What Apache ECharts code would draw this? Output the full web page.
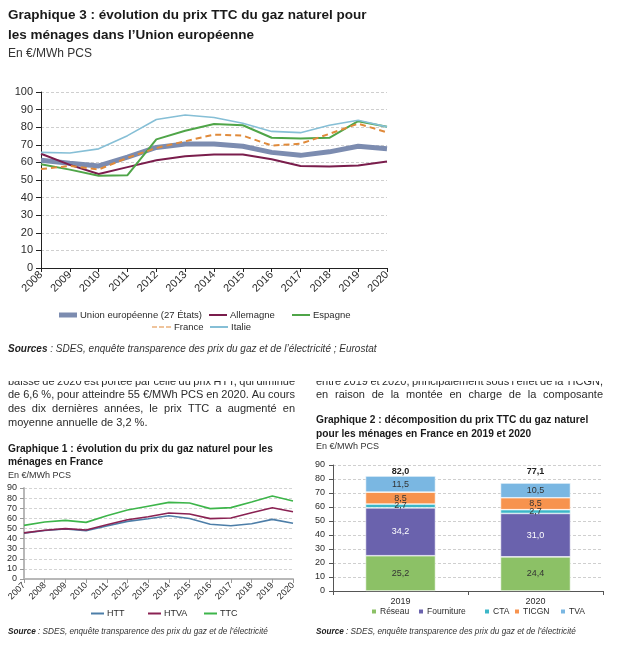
<!DOCTYPE html>
<html><head><meta charset="utf-8">
<script src="https://cdn.jsdelivr.net/npm/echarts@6/dist/echarts.min.js"></script>
<style>html,body{margin:0;padding:0;background:#fff}#c{width:627px;height:656px}</style>
</head><body><div id="c"></div>
<script>
// ---- Graphique 3 data ----
const years3 = ['2008','2009','2010','2011','2012','2013','2014','2015','2016','2017','2018','2019','2020'];
const ueVals = [61.2, 59.5, 58.0, 63.0, 68.5, 70.5, 70.5, 69.2, 65.7, 64.0, 66.0, 69.2, 67.7];
const allemagneVals = [64.9, 58.6, 53.4, 57.3, 61.2, 63.5, 64.5, 64.5, 61.8, 57.9, 57.7, 58.3, 60.5];
const espagneVals = [58.9, 55.9, 52.4, 52.7, 73.1, 78.0, 81.8, 81.1, 74.0, 73.6, 74.0, 83.4, 80.2];
const franceVals = [56.2, 58.0, 56.0, 62.6, 68.2, 72.0, 75.8, 75.2, 69.6, 70.6, 76.2, 82.0, 77.1];
const italieVals = [65.7, 65.3, 67.7, 75.2, 84.4, 86.9, 85.5, 82.2, 77.6, 76.9, 81.1, 83.9, 80.2];
const names3 = ['Union européenne (27 États)', 'Allemagne', 'Espagne', 'France', 'Italie'];
const ticks3 = [0, 100, 10];

// ---- Graphique 1 data ----
const years1 = ['2007','2008','2009','2010','2011','2012','2013','2014','2015','2016','2017','2018','2019','2020'];
const httVals = [45.4, 48.0, 49.5, 47.8, 52.4, 57.0, 59.6, 62.6, 59.9, 54.1, 52.7, 54.7, 59.0, 55.1];
const htvaVals = [45.6, 48.2, 49.8, 48.4, 53.6, 58.6, 61.6, 65.2, 64.3, 59.7, 60.4, 65.6, 70.5, 66.5];
const ttcVals = [53.0, 56.3, 58.0, 56.0, 62.6, 68.2, 72.0, 75.8, 75.2, 69.6, 70.6, 76.2, 82.0, 77.1];
const names1 = ['HTT', 'HTVA', 'TTC'];

// ---- Graphique 2 data ----
const years2 = ['2019', '2020'];
const reseauVals = [25.2, 24.4];
const fournitureVals = [34.2, 31.0];
const ctaVals = [2.7, 2.7];
const ticgnVals = [8.5, 8.5];
const tvaVals = [11.5, 10.5];
const totalVals = [82.0, 77.1];
const names2 = ['Réseau', 'Fourniture', 'CTA', 'TICGN', 'TVA'];

const FF = '"Liberation Sans", Arial, Helvetica, sans-serif';
const TXT = '#2b2b2b';
const fmt = v => Number(v).toFixed(1).replace('.', ',');

const ctx = document.createElement('canvas').getContext('2d');
function justified(text, x, y, width, size, out) {
  ctx.font = size + 'px ' + FF;
  const words = text.split(' ');
  const ws = words.map(w => ctx.measureText(w).width);
  const total = ws.reduce((a, b) => a + b, 0);
  const gap = (width - total) / (words.length - 1);
  let cx = x;
  words.forEach((w, i) => {
    out.push({type: 'text', x: cx, y: y, z: 10, style: {text: w, fontSize: size, fontFamily: FF, fill: TXT, textVerticalAlign: 'middle', verticalAlign: 'middle'}});
    cx += ws[i] + gap;
  });
}
function txt(text, x, y, size, opts) {
  opts = opts || {};
  return {type: 'text', x: x, y: y, z: 10, style: Object.assign({text: text, fontSize: size, fontFamily: FF, fill: TXT, textVerticalAlign: 'middle', verticalAlign: 'middle'}, opts)};
}

const graphics = [];
// Main title
graphics.push(txt('Graphique 3 : évolution du prix TTC du gaz naturel pour', 8, 15, 13.5, {fontWeight: 'bold', fill: '#1a1a1a'}));
graphics.push(txt('les ménages dans l\u2019Union européenne', 8, 35, 13.5, {fontWeight: 'bold', fill: '#1a1a1a'}));
graphics.push(txt('En €/MWh PCS', 8, 54, 12, {fill: '#333'}));
graphics.push(txt('{b|Sources} : SDES, enquête transparence des prix du gaz et de l\u2019électricité ; Eurostat', 8, 349, 10,
  {fontStyle: 'italic', fill: '#333', rich: {b: {fontWeight: 'bold', fontStyle: 'italic', fontSize: 10, fontFamily: FF, fill: '#222'}}}));

// Cut paragraph text, left column
justified('baisse de 2020 est portée par celle du prix HTT, qui diminue', 8, 382, 287, 11, graphics);
justified('de 6,6 %, pour atteindre 55 €/MWh PCS en 2020. Au cours', 8, 395, 287, 11, graphics);
justified('des dix dernières années, le prix TTC a augmenté en', 8, 409, 287, 11, graphics);
graphics.push(txt('moyenne annuelle de 3,2 %.', 8, 423, 11));
// right column
justified('entre 2019 et 2020, principalement sous l\u2019effet de la TICGN,', 316, 382, 287, 11, graphics);
justified('en raison de la montée en charge de la composante', 316, 395, 287, 11, graphics);
// cover the top of the cut line
graphics.push({type: 'rect', z: 20, shape: {x: 0, y: 360, width: 627, height: 21}, style: {fill: '#fff'}});

// Graphique 1 titles
graphics.push(txt('Graphique 1 : évolution du prix du gaz naturel pour les', 8, 449, 10.2, {fontWeight: 'bold', fill: '#1a1a1a'}));
graphics.push(txt('ménages en France', 8, 462, 10.2, {fontWeight: 'bold', fill: '#1a1a1a'}));
graphics.push(txt('En €/MWh PCS', 8, 476, 9, {fill: '#333'}));
graphics.push(txt('{b|Source} : SDES, enquête transparence des prix du gaz et de l\u2019électricité', 8, 632, 8.2,
  {fontStyle: 'italic', fill: '#333', rich: {b: {fontWeight: 'bold', fontStyle: 'italic', fontSize: 8.2, fontFamily: FF, fill: '#222'}}}));

// Graphique 2 titles
graphics.push(txt('Graphique 2 : décomposition du prix TTC du gaz naturel', 316, 420, 10.2, {fontWeight: 'bold', fill: '#1a1a1a'}));
graphics.push(txt('pour les ménages en France en 2019 et 2020', 316, 434, 10.2, {fontWeight: 'bold', fill: '#1a1a1a'}));
graphics.push(txt('En €/MWh PCS', 316, 447, 9, {fill: '#333'}));
graphics.push(txt('{b|Source} : SDES, enquête transparence des prix du gaz et de l\u2019électricité', 316, 632, 8.2,
  {fontStyle: 'italic', fill: '#333', rich: {b: {fontWeight: 'bold', fontStyle: 'italic', fontSize: 8.2, fontFamily: FF, fill: '#222'}}}));

const colors3 = ['#7c8cb0', '#7a1d4c', '#4fa548', '#e08a3a', '#86bfd6'];
const vals3 = [ueVals, allemagneVals, espagneVals, franceVals, italieVals];
const widths3 = [5, 2, 2, 2, 1.6];

const series = [];
names3.forEach((n, i) => {
  series.push({
    name: n, type: 'line', xAxisIndex: 0, yAxisIndex: 0, data: vals3[i],
    symbol: 'none', showSymbol: false, z: i === 0 ? 2 : 3,
    lineStyle: {color: colors3[i], width: widths3[i], type: n === 'France' ? [6, 4] : 'solid'},
    itemStyle: {color: colors3[i]}
  });
});
const colors1 = ['#4d7ea8', '#8a2253', '#3db54a'];
const vals1 = [httVals, htvaVals, ttcVals];
names1.forEach((n, i) => {
  series.push({
    name: n, type: 'line', xAxisIndex: 1, yAxisIndex: 1, data: vals1[i],
    symbol: 'none', showSymbol: false,
    lineStyle: {color: colors1[i], width: 1.6}, itemStyle: {color: colors1[i]}
  });
});
const colors2 = ['#8cc166', '#6a62ad', '#3cb7c8', '#f7934e', '#7ab7e2'];
const vals2 = [reseauVals, fournitureVals, ctaVals, ticgnVals, tvaVals];
names2.forEach((n, i) => {
  series.push({
    name: n, type: 'bar', xAxisIndex: 2, yAxisIndex: 2, stack: 'tot', data: vals2[i],
    barWidth: 70,
    itemStyle: {color: colors2[i], borderColor: '#fff', borderWidth: 0.6},
    label: {show: true, position: 'inside', fontSize: 9, fontFamily: FF,
      color: i === 1 ? '#fff' : '#333', formatter: p => fmt(p.value)}
  });
});

const DASH = 'path://M0,0h5v1h-5z M7,0h5v1h-5z M14,0h5v1h-5z';
function leg(name, icon, left, top, w, h, fs) {
  return {data: [{name: name, icon: icon}], left: left, top: top, padding: 0, itemWidth: w, itemHeight: h,
    textStyle: {fontSize: fs, color: TXT, padding: [0, 0, 0, -2]}, selectedMode: false};
}
const legends = [
  leg(names3[0], 'rect', 59, 310, 18, 5, 9.5),
  leg(names3[1], 'rect', 209, 310, 18, 2, 9.5),
  leg(names3[2], 'rect', 292, 310, 18, 2, 9.5),
  leg(names3[3], DASH, 152, 322, 19, 2, 9.5),
  leg(names3[4], 'rect', 210, 322, 18, 2, 9.5),
  leg(names1[0], 'rect', 91, 609, 13, 2, 9),
  leg(names1[1], 'rect', 148, 609, 13, 2, 9),
  leg(names1[2], 'rect', 204, 609, 13, 2, 9),
  leg(names2[0], 'rect', 370, 607, 6, 6, 8.5),
  leg(names2[1], 'rect', 417, 607, 6, 6, 8.5),
  leg(names2[2], 'rect', 483, 607, 6, 6, 8.5),
  leg(names2[3], 'rect', 513, 607, 6, 6, 8.5),
  leg(names2[4], 'rect', 559, 607, 6, 6, 8.5)
];

const chart = echarts.init(document.getElementById('c'), null, {renderer: 'canvas'});
chart.setOption({
  animation: false,
  backgroundColor: '#fff',
  textStyle: {fontFamily: FF},
  grid: [
    {left: 41, top: 92, width: 346, height: 176},
    {left: 24, top: 488, width: 269, height: 91},
    {left: 333, top: 465, width: 270, height: 126}
  ],
  xAxis: [
    {gridIndex: 0, type: 'category', data: years3, boundaryGap: false,
      axisLine: {lineStyle: {color: '#222', width: 1}},
      axisTick: {show: true, length: 4, lineStyle: {color: '#222'}},
      axisLabel: {rotate: 45, fontSize: 11, color: TXT, margin: 5, interval: 0}},
    {gridIndex: 1, type: 'category', data: years1, boundaryGap: false,
      axisLine: {lineStyle: {color: '#b8b8b8', width: 2}},
      axisTick: {show: true, length: 4, lineStyle: {color: '#999'}},
      axisLabel: {rotate: 45, fontSize: 9, color: TXT, margin: 5, interval: 0}},
    {gridIndex: 2, type: 'category', data: years2, boundaryGap: true,
      axisLine: {lineStyle: {color: '#555', width: 1}},
      axisTick: {show: true, length: 4, lineStyle: {color: '#555'}},
      axisLabel: {fontSize: 9, color: TXT, margin: 6}},
    {gridIndex: 2, type: 'category', data: totalVals.map(fmt), position: 'top', boundaryGap: true,
      axisLine: {show: false}, axisTick: {show: false},
      axisLabel: {fontSize: 9, fontWeight: 'bold', color: '#222', margin: -11}}
  ],
  yAxis: [
    {gridIndex: 0, type: 'value', min: ticks3[0], max: ticks3[1], interval: ticks3[2],
      axisLine: {show: true, lineStyle: {color: '#222'}},
      axisTick: {show: true, length: 5, lineStyle: {color: '#222'}},
      axisLabel: {fontSize: 11, color: TXT, margin: 8},
      splitLine: {lineStyle: {color: '#cfcfcf', type: [3, 2]}}},
    {gridIndex: 1, type: 'value', min: 0, max: 90, interval: 10,
      axisLine: {show: true, lineStyle: {color: '#b8b8b8', width: 2}},
      axisTick: {show: true, length: 4, lineStyle: {color: '#999'}},
      axisLabel: {fontSize: 9, color: TXT, margin: 7},
      splitLine: {lineStyle: {color: '#d4d4d4', type: [3, 2]}}},
    {gridIndex: 2, type: 'value', min: 0, max: 90, interval: 10,
      axisLine: {show: true, lineStyle: {color: '#555'}},
      axisTick: {show: true, length: 4, lineStyle: {color: '#555'}},
      axisLabel: {fontSize: 9, color: TXT, margin: 8},
      splitLine: {lineStyle: {color: '#cfcfcf', type: [3, 2]}}}
  ],
  legend: legends,
  graphic: graphics,
  series: series
});
</script>
</body></html>
